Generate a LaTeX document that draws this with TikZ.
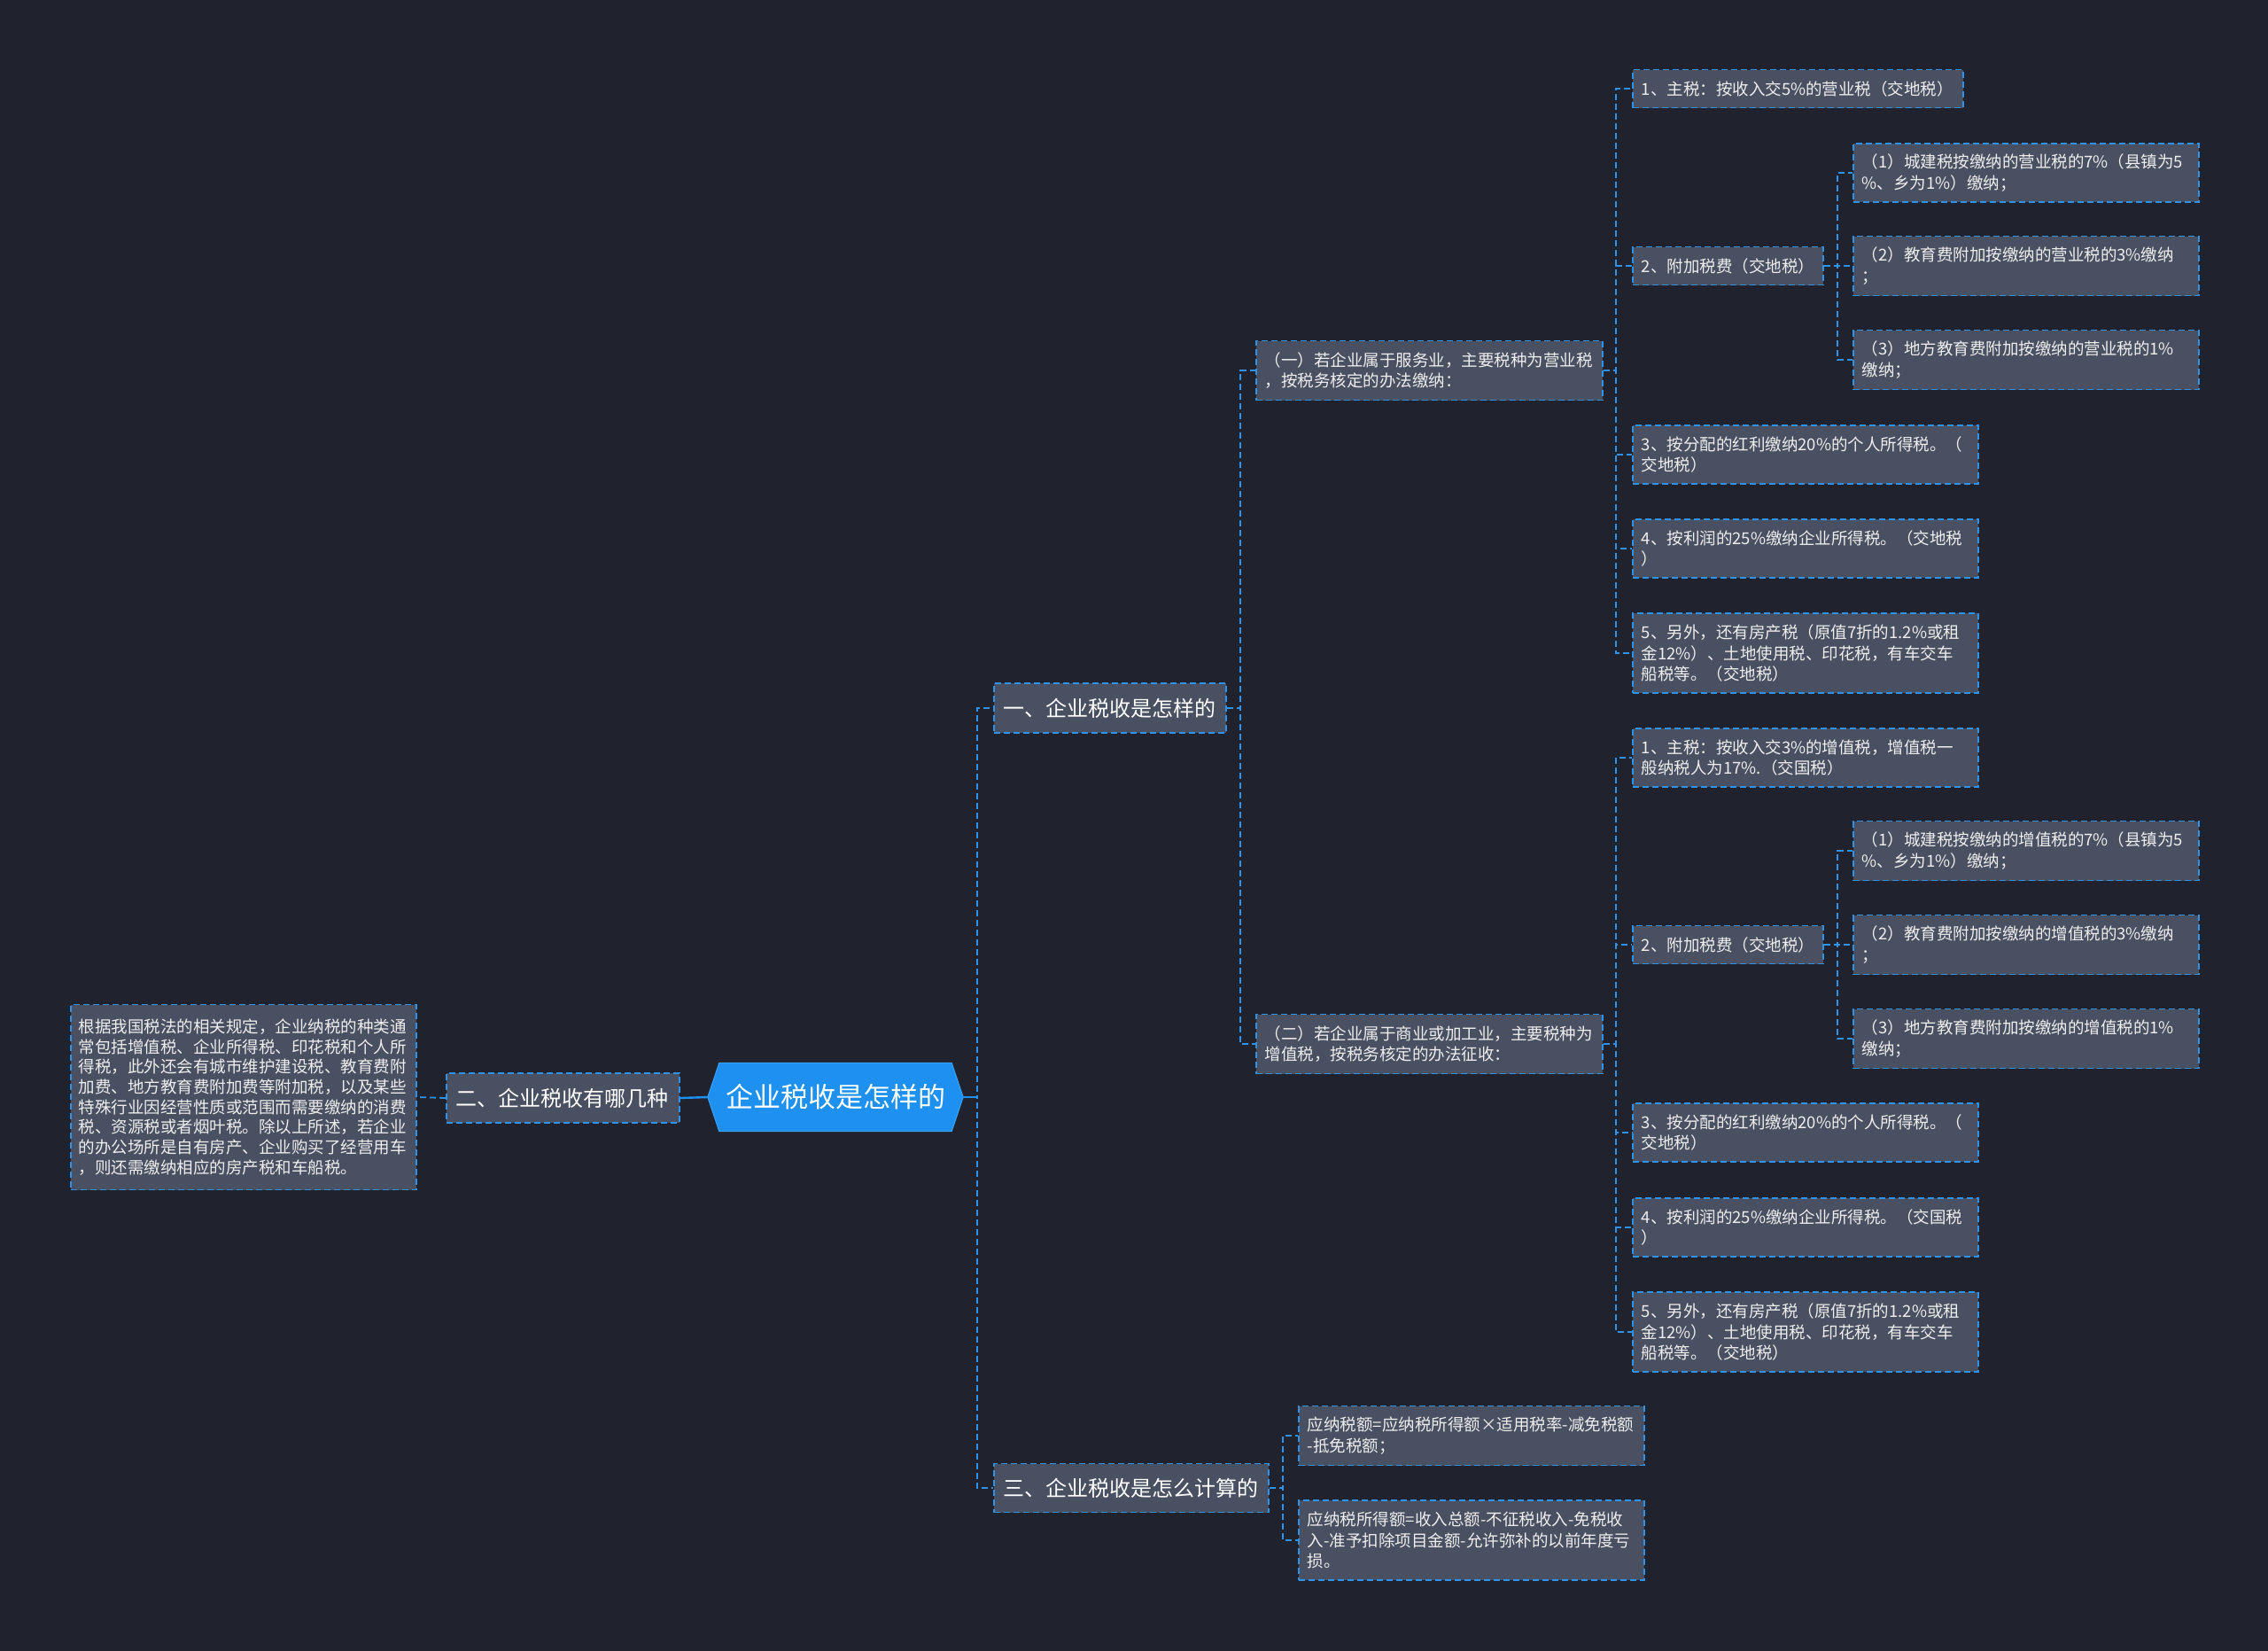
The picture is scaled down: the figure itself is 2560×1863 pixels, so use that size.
\documentclass[tikz,border=0pt]{standalone}
\usepackage{fontspec}
\setmainfont{Noto Sans CJK SC}
\usetikzlibrary{backgrounds}
\definecolor{bgc}{HTML}{20232E}
\definecolor{boxc}{HTML}{495061}
\definecolor{linec}{HTML}{2D93EC}
\definecolor{rootc}{HTML}{1E90F0}
\definecolor{rootedge}{HTML}{3AA2FF}
\definecolor{txtc}{HTML}{EEEEEE}
\hyphenpenalty=10000
\exhyphenpenalty=10000
\tikzset{
  box/.style={draw=linec, fill=boxc, line width=1.8pt, dash pattern=on 7pt off 4pt,
    text=txtc, anchor=west, align=left, inner xsep=10pt, inner ysep=0pt,
    font=\fontsize{18.5pt}{23.3pt}\selectfont},
  lone/.style={box, inner xsep=11pt, font=\fontsize{24pt}{28pt}\selectfont, text=white},
  conn/.style={draw=linec, line width=1.8pt, dash pattern=on 7pt off 4pt},
  rootline/.style={draw=rootc, line width=2.4pt},
}
\begin{document}
\begin{tikzpicture}[x=1pt,y=-1pt]
\useasboundingbox (0,0) rectangle (2560,1863);
\begin{scope}[on background layer]
  \fill[bgc] (0,0) rectangle (2560,1863);
\end{scope}

% root
\node[font=\fontsize{31pt}{36pt}\selectfont, text=white, minimum width=288pt, minimum height=77pt, inner sep=0pt] (root) at (943,1238) {企业税收是怎样的};
\begin{scope}[on background layer]
  \filldraw[fill=rootc, draw=rootedge, line width=1pt] (root.west) -- ([xshift=13pt]root.north west) -- ([xshift=-13pt]root.north east) -- (root.east) -- ([xshift=-13pt]root.south east) -- ([xshift=13pt]root.south west) -- cycle;
\end{scope}

% level 1
\node[lone, text width=240pt, minimum height=56pt] (l1a) at (1121,799) {一、企业税收是怎样的};
\node[lone, text width=241pt, minimum height=56pt] (l1b) at (503,1239) {二、企业税收有哪几种};
\node[lone, text width=288pt, minimum height=55pt] (l1c) at (1121,1679) {三、企业税收是怎么计算的};

% description (left)
\node[box, inner xsep=9pt, text width=372pt, minimum height=209pt, font=\fontsize{18.5pt}{22.7pt}\selectfont] (desc) at (79,1238) {根据我国税法的相关规定，企业纳税的种类通\\常包括增值税、企业所得税、印花税和个人所\\得税，此外还会有城市维护建设税、教育费附\\加费、地方教育费附加费等附加税，以及某些\\特殊行业因经营性质或范围而需要缴纳的消费\\税、资源税或者烟叶税。除以上所述，若企业\\的办公场所是自有房产、企业购买了经营用车\\，则还需缴纳相应的房产税和车船税。};

% level 2
\node[box, text width=371pt, minimum height=67pt] (s1) at (1417,418) {（一）若企业属于服务业，主要税种为营业税\\，按税务核定的办法缴纳：};
\node[box, text width=371pt, minimum height=67pt] (s2) at (1417,1178) {（二）若企业属于商业或加工业，主要税种为\\增值税，按税务核定的办法征收：};

% group 1
\node[box, text width=353pt, minimum height=43pt] (a1) at (1842,100) {1、主税：按收入交5\%的营业税（交地税）};
\node[box, text width=195pt, minimum height=43pt] (a2) at (1842,300) {2、附加税费（交地税）};
\node[box, text width=370pt, minimum height=66pt] (a3) at (1842,513) {3、按分配的红利缴纳20\%的个人所得税。（\\交地税）};
\node[box, text width=370pt, minimum height=66pt] (a4) at (1842,619) {4、按利润的25\%缴纳企业所得税。（交地税\\）};
\node[box, text width=370pt, minimum height=90pt] (a5) at (1842,737) {5、另外，还有房产税（原值7折的1.2\%或租\\金12\%）、土地使用税、印花税，有车交车\\船税等。（交地税）};
\node[box, text width=370pt, minimum height=66pt] (a21) at (2091,195) {（1）城建税按缴纳的营业税的7\%（县镇为5\\\%、乡为1\%）缴纳；};
\node[box, text width=370pt, minimum height=67pt] (a22) at (2091,300) {（2）教育费附加按缴纳的营业税的3\%缴纳\\；};
\node[box, text width=370pt, minimum height=67pt] (a23) at (2091,406) {（3）地方教育费附加按缴纳的营业税的1\%\\缴纳；};

% group 2
\node[box, text width=370pt, minimum height=66pt] (b1) at (1842,855) {1、主税：按收入交3\%的增值税，增值税一\\般纳税人为17\%.（交国税）};
\node[box, text width=195pt, minimum height=43pt] (b2) at (1842,1066) {2、附加税费（交地税）};
\node[box, text width=370pt, minimum height=66pt] (b3) at (1842,1278) {3、按分配的红利缴纳20\%的个人所得税。（\\交地税）};
\node[box, text width=370pt, minimum height=66pt] (b4) at (1842,1385) {4、按利润的25\%缴纳企业所得税。（交国税\\）};
\node[box, text width=370pt, minimum height=90pt] (b5) at (1842,1503) {5、另外，还有房产税（原值7折的1.2\%或租\\金12\%）、土地使用税、印花税，有车交车\\船税等。（交地税）};
\node[box, text width=370pt, minimum height=67pt] (b21) at (2091,960) {（1）城建税按缴纳的增值税的7\%（县镇为5\\\%、乡为1\%）缴纳；};
\node[box, text width=370pt, minimum height=67pt] (b22) at (2091,1066) {（2）教育费附加按缴纳的增值税的3\%缴纳\\；};
\node[box, text width=370pt, minimum height=67pt] (b23) at (2091,1172) {（3）地方教育费附加按缴纳的增值税的1\%\\缴纳；};

% group 3
\node[box, text width=370pt, minimum height=67pt] (c1) at (1465,1620) {应纳税额=应纳税所得额×适用税率-减免税额\\-抵免税额；};
\node[box, text width=370pt, minimum height=90pt] (c2) at (1465,1738) {应纳税所得额=收入总额-不征税收入-免税收\\入-准予扣除项目金额-允许弥补的以前年度亏\\损。};

% trunk x positions
\coordinate (t0) at (1103,0);
\coordinate (t1) at (1400,0);
\coordinate (t2) at (1824,0);
\coordinate (t3) at (2074,0);
\coordinate (t4) at (1448,0);

% connectors
\begin{scope}[on background layer]
\foreach \c in {l1a,l1c} \draw[conn] (root.east) -- (root.east -| t0) |- (\c.west);
\draw[rootline] (root.east) -- (root.east -| t0);
\draw[rootline] (root.west) -- (l1b.east);
\draw[conn] (l1b.west) -- (desc.east);
\foreach \c in {s1,s2} \draw[conn] (l1a.east) -- (l1a.east -| t1) |- (\c.west);
\foreach \c in {a1,a2,a3,a4,a5} \draw[conn] (s1.east) -- (s1.east -| t2) |- (\c.west);
\foreach \c in {b1,b2,b3,b4,b5} \draw[conn] (s2.east) -- (s2.east -| t2) |- (\c.west);
\foreach \c in {a21,a22,a23} \draw[conn] (a2.east) -- (a2.east -| t3) |- (\c.west);
\foreach \c in {b21,b22,b23} \draw[conn] (b2.east) -- (b2.east -| t3) |- (\c.west);
\foreach \c in {c1,c2} \draw[conn] (l1c.east) -- (l1c.east -| t4) |- (\c.west);
\end{scope}
\end{tikzpicture}
\end{document}
